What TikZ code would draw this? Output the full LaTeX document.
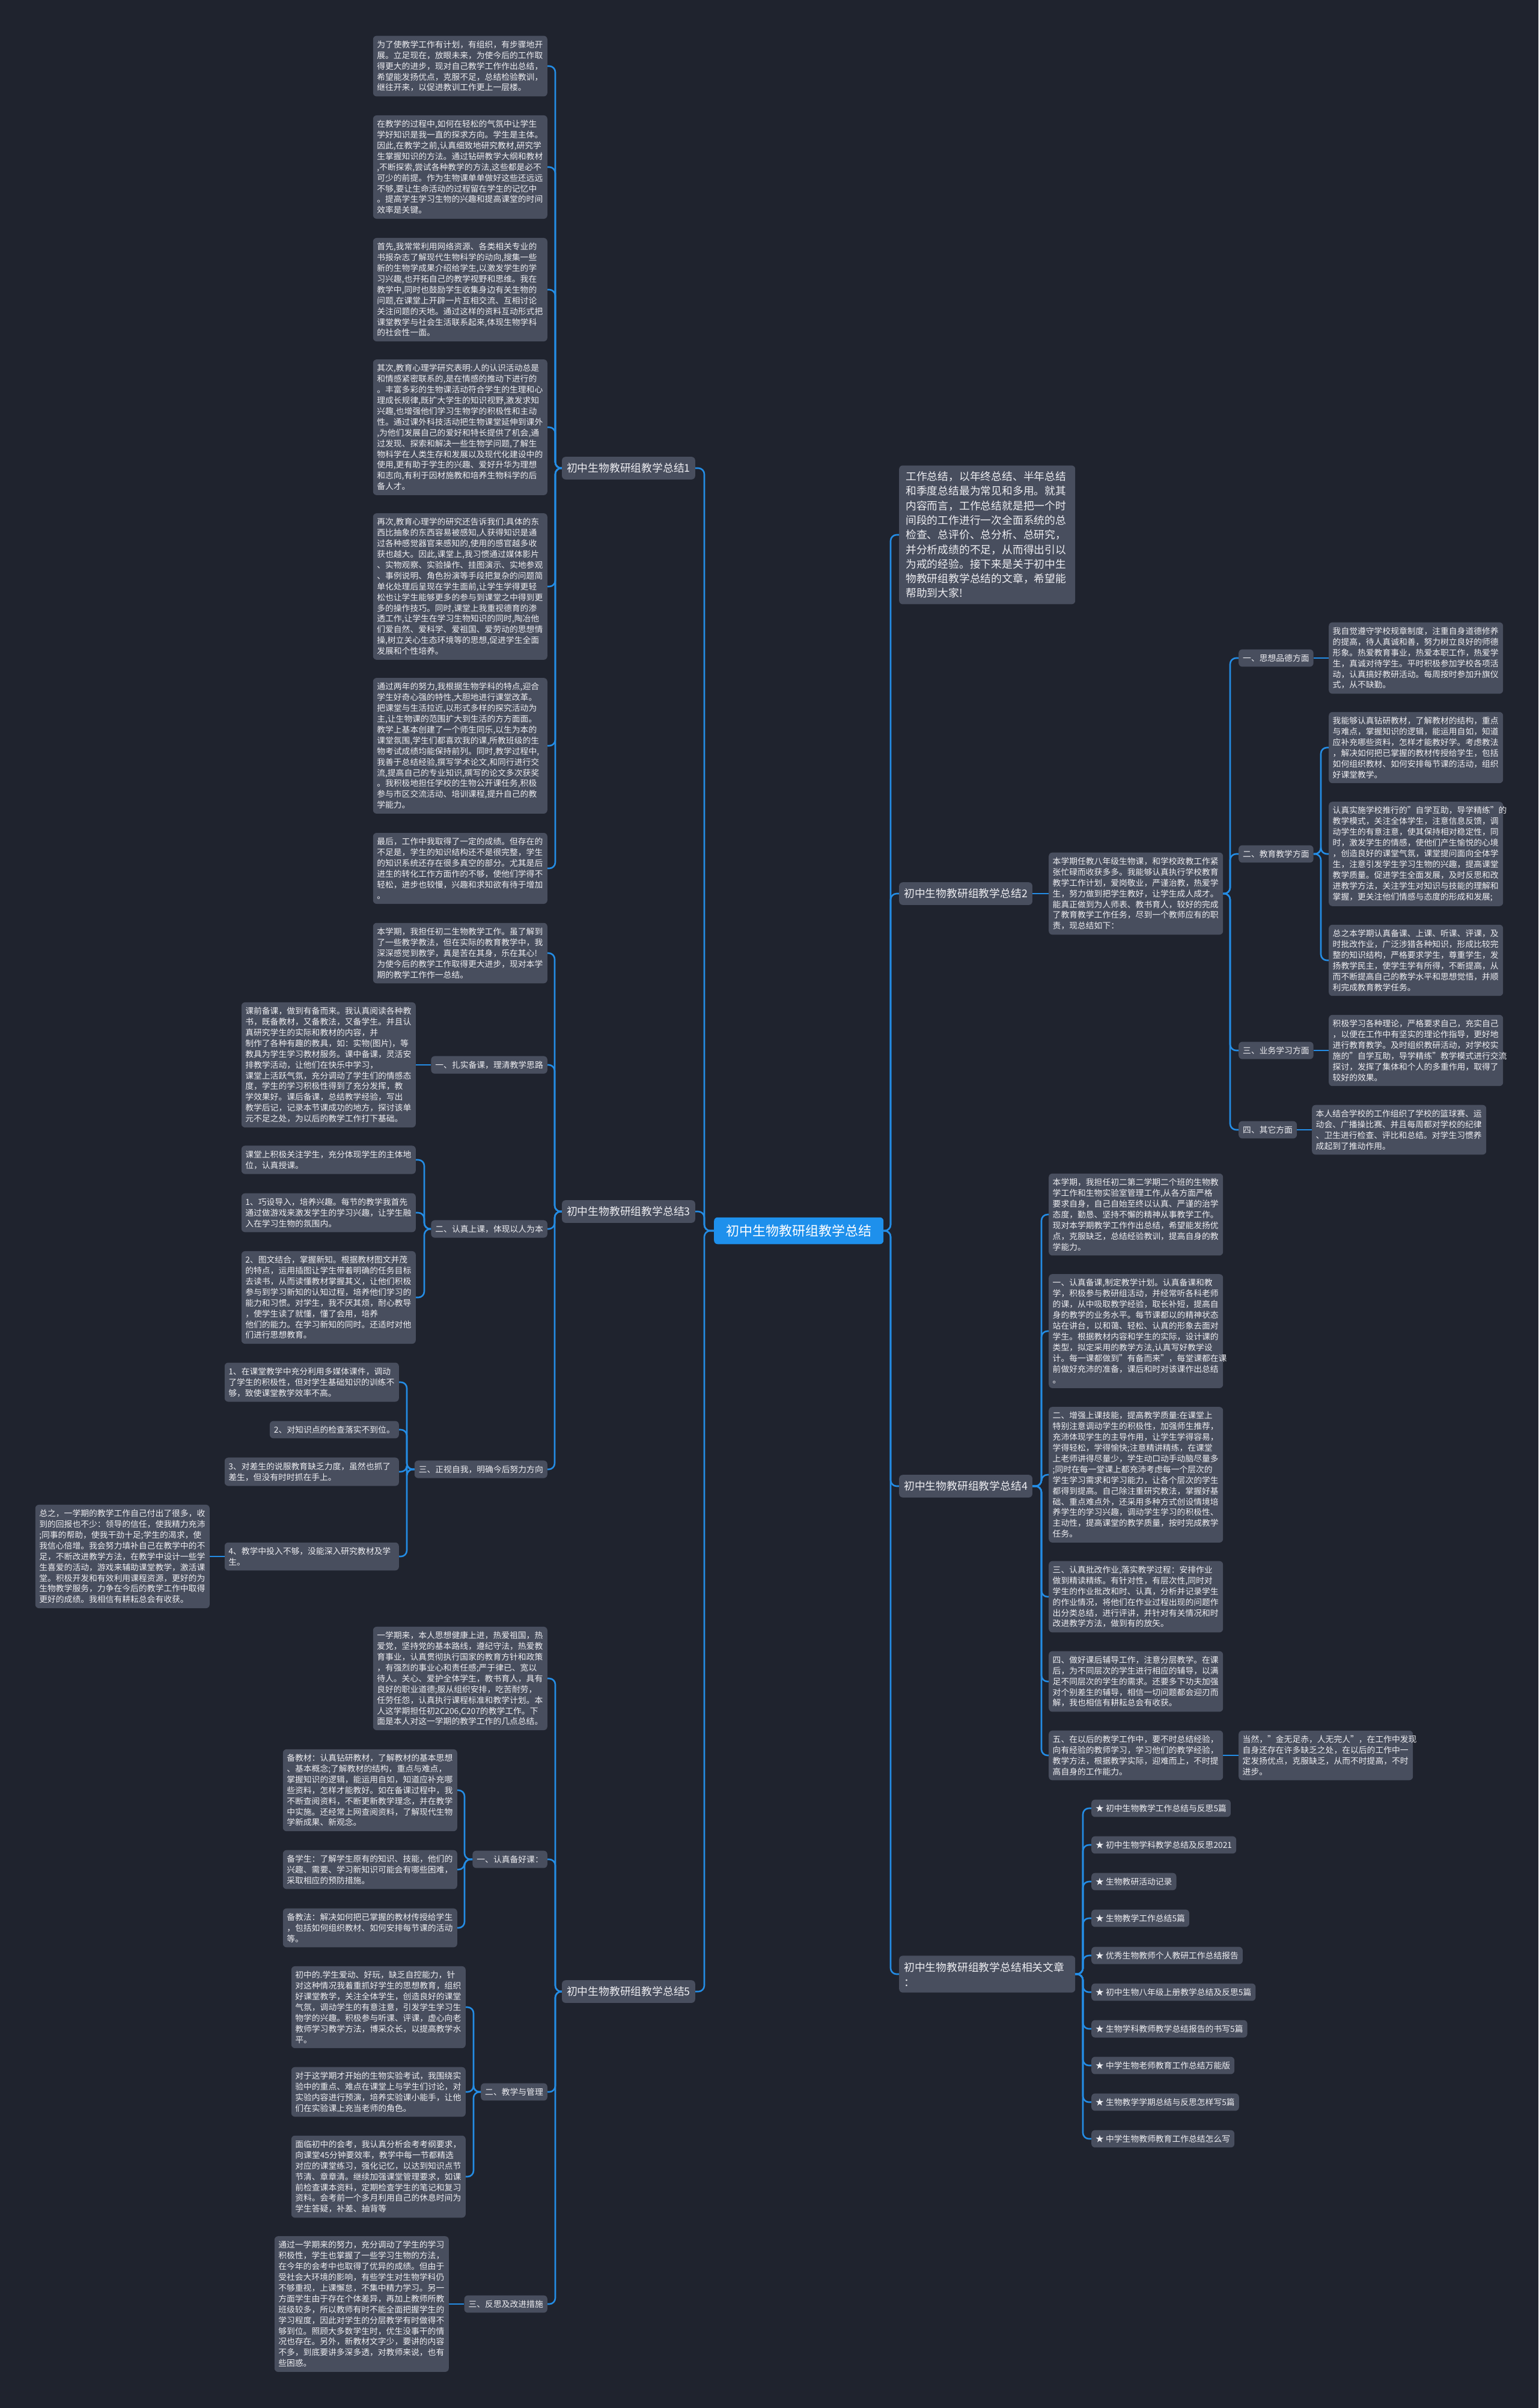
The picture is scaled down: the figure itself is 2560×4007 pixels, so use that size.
\documentclass[tikz,border=0pt]{standalone}
\usepackage{fontspec}
\setmainfont{Noto Sans CJK SC}
\definecolor{bgc}{RGB}{31,35,46}
\definecolor{boxc}{RGB}{72,78,94}
\definecolor{linec}{RGB}{36,140,228}
\definecolor{txtc}{RGB}{238,238,242}
\definecolor{cblue}{RGB}{30,144,236}
\tikzset{
  conn/.style={draw=linec, line width=2.6pt, rounded corners=10pt},
  tbox/.style={fill=boxc, rounded corners=6pt, text=txtc, font=\fontsize{13.8}{17.9}\selectfont, align=left, text width=277pt, inner xsep=6.5pt, inner ysep=8pt},
  lvtwo/.style={fill=boxc, rounded corners=6pt, text=txtc, font=\fontsize{13.8}{17.9}\selectfont, align=left, inner xsep=7pt, inner ysep=8pt},
  lvone/.style={fill=boxc, rounded corners=6pt, text=txtc, font=\fontsize{17.8}{25}\selectfont, align=left, inner xsep=8pt, inner ysep=10.5pt},
  introbox/.style={fill=boxc, rounded corners=6pt, text=txtc, font=\fontsize{17.8}{24.3}\selectfont, align=left, text width=271pt, inner xsep=11pt, inner ysep=10pt},
  cnode/.style={fill=cblue, rounded corners=6pt, text=white, font=\fontsize{22}{28}\selectfont, inner xsep=20pt, inner ysep=12pt},
}
\begin{document}
\begin{tikzpicture}[x=1pt,y=-1pt]
\fill[bgc] (0,0) rectangle (2560,4007);
\useasboundingbox (0,0) rectangle (2560,4007);

% bus coordinates
\coordinate (bML) at (1172,0);
\coordinate (bMR) at (1482,0);
\coordinate (bL1) at (924,0);
\coordinate (bL3) at (923,0);
\coordinate (bB2) at (706,0);
\coordinate (bB3) at (677,0);
\coordinate (bL5) at (924,0);
\coordinate (bE1) at (773,0);
\coordinate (bE2) at (788,0);
\coordinate (bL2) at (1731,0);
\coordinate (bR) at (2047,0);
\coordinate (bR2) at (2198,0);
\coordinate (bL4) at (1733,0);
\coordinate (bL6) at (1802,0);

% center
\node[cnode, anchor=west] (C) at (1188,2048) {初中生物教研组教学总结};

% ---------- Left: section 1
\node[lvone, anchor=east] (L1) at (1157,779) {初中生物教研组教学总结1};
\node[tbox, anchor=east] (A1) at (911,110) {为了使教学工作有计划，有组织，有步骤地开\\展。立足现在，放眼未来，为使今后的工作取\\得更大的进步，现对自己教学工作作出总结，\\希望能发扬优点，克服不足，总结检验教训，\\继往开来，以促进教训工作更上一层楼。};
\node[tbox, anchor=east] (A2) at (911,278) {在教学的过程中,如何在轻松的气氛中让学生\\学好知识是我一直的探求方向。学生是主体。\\因此,在教学之前,认真细致地研究教材,研究学\\生掌握知识的方法。通过钻研教学大纲和教材\\,不断探索,尝试各种教学的方法,这些都是必不\\可少的前提。作为生物课单单做好这些还远远\\不够,要让生命活动的过程留在学生的记忆中\\。提高学生学习生物的兴趣和提高课堂的时间\\效率是关键。};
\node[tbox, anchor=east] (A3) at (911,482) {首先,我常常利用网络资源、各类相关专业的\\书报杂志了解现代生物科学的动向,搜集一些\\新的生物学成果介绍给学生,以激发学生的学\\习兴趣,也开拓自己的教学视野和思维。我在\\教学中,同时也鼓励学生收集身边有关生物的\\问题,在课堂上开辟一片互相交流、互相讨论\\关注问题的天地。通过这样的资料互动形式把\\课堂教学与社会生活联系起来,体现生物学科\\的社会性一面。};
\node[tbox, anchor=east] (A4) at (911,711) {其次,教育心理学研究表明:人的认识活动总是\\和情感紧密联系的,是在情感的推动下进行的\\。丰富多彩的生物课活动符合学生的生理和心\\理成长规律,既扩大学生的知识视野,激发求知\\兴趣,也增强他们学习生物学的积极性和主动\\性。通过课外科技活动把生物课堂延伸到课外\\,为他们发展自己的爱好和特长提供了机会,通\\过发现、探索和解决一些生物学问题,了解生\\物科学在人类生存和发展以及现代化建设中的\\使用,更有助于学生的兴趣、爱好升华为理想\\和志向,有利于因材施教和培养生物科学的后\\备人才。};
\node[tbox, anchor=east] (A5) at (911,976) {再次,教育心理学的研究还告诉我们:具体的东\\西比抽象的东西容易被感知,人获得知识是通\\过各种感觉器官来感知的,使用的感官越多收\\获也越大。因此,课堂上,我习惯通过媒体影片\\、实物观察、实验操作、挂图演示、实地参观\\、事例说明、角色扮演等手段把复杂的问题简\\单化处理后呈现在学生面前,让学生学得更轻\\松也让学生能够更多的参与到课堂之中得到更\\多的操作技巧。同时,课堂上我重视德育的渗\\透工作,让学生在学习生物知识的同时,陶冶他\\们爱自然、爱科学、爱祖国、爱劳动的思想情\\操,树立关心生态环境等的思想,促进学生全面\\发展和个性培养。};
\node[tbox, anchor=east] (A6) at (911,1241) {通过两年的努力,我根据生物学科的特点,迎合\\学生好奇心强的特性,大胆地进行课堂改革。\\把课堂与生活拉近,以形式多样的探究活动为\\主,让生物课的范围扩大到生活的方方面面。\\教学上基本创建了一个师生同乐,以生为本的\\课堂氛围,学生们都喜欢我的课,所教班级的生\\物考试成绩均能保持前列。同时,教学过程中,\\我善于总结经验,撰写学术论文,和同行进行交\\流,提高自己的专业知识,撰写的论文多次获奖\\。我积极地担任学校的生物公开课任务,积极\\参与市区交流活动、培训课程,提升自己的教\\学能力。};
\node[tbox, anchor=east] (A7) at (911,1445) {最后，工作中我取得了一定的成绩。但存在的\\不足是，学生的知识结构还不是很完整，学生\\的知识系统还存在很多真空的部分。尤其是后\\进生的转化工作方面作的不够，使他们学得不\\轻松，进步也较慢，兴趣和求知欲有待于增加\\。};

% ---------- Left: section 3
\node[lvone, anchor=east] (L3) at (1157,2016) {初中生物教研组教学总结3};
\node[tbox, anchor=east] (B0) at (911,1586) {本学期，我担任初二生物教学工作。虽了解到\\了一些教学教法，但在实际的教育教学中，我\\深深感觉到教学，真是苦在其身，乐在其心!\\为使今后的教学工作取得更大进步，现对本学\\期的教学工作作一总结。};
\node[lvtwo, anchor=east] (B1) at (911,1772) {一、扎实备课，理清教学思路};
\node[tbox, anchor=east] (B1c) at (692,1772) {课前备课，做到有备而来。我认真阅读各种教\\书，既备教材，又备教法，又备学生。并且认\\真研究学生的实际和教材的内容，并\\制作了各种有趣的教具，如：实物(图片)，等\\教具为学生学习教材服务。课中备课，灵活安\\排教学活动，让他们在快乐中学习，\\课堂上活跃气氛，充分调动了学生们的情感态\\度，学生的学习积极性得到了充分发挥，教\\学效果好。课后备课，总结教学经验，写出\\教学后记，记录本节课成功的地方，探讨该单\\元不足之处，为以后的教学工作打下基础。};
\node[lvtwo, anchor=east] (B2) at (911,2045) {二、认真上课，体现以人为本};
\node[tbox, anchor=east] (B2a) at (692,1930) {课堂上积极关注学生，充分体现学生的主体地\\位，认真授课。};
\node[tbox, anchor=east] (B2b) at (692,2018) {1、巧设导入，培养兴趣。每节的教学我首先\\通过做游戏来激发学生的学习兴趣，让学生融\\入在学习生物的氛围内。};
\node[tbox, anchor=east] (B2c) at (692,2159) {2、图文结合，掌握新知。根据教材图文并茂\\的特点，运用插图让学生带着明确的任务目标\\去读书，从而读懂教材掌握其义，让他们积极\\参与到学习新知的认知过程，培养他们学习的\\能力和习惯。对学生，我不厌其烦，耐心教导\\，使学生读了就懂，懂了会用，培养\\他们的能力。在学习新知的同时。还适时对他\\们进行思想教育。};
\node[lvtwo, anchor=east] (B3) at (911,2445) {三、正视自我，明确今后努力方向};
\node[tbox, anchor=east] (C1) at (664,2300) {1、在课堂教学中充分利用多媒体课件，调动\\了学生的积极性，但对学生基础知识的训练不\\够，致使课堂教学效率不高。};
\node[lvtwo, anchor=east] (C2) at (664,2379) {2、对知识点的检查落实不到位。};
\node[tbox, anchor=east] (C3) at (664,2449) {3、对差生的说服教育缺乏力度，虽然也抓了\\差生，但没有时时抓在手上。};
\node[tbox, anchor=east] (C4) at (664,2590) {4、教学中投入不够，没能深入研究教材及学\\生。};
\node[tbox, anchor=east] (D) at (349,2590) {总之，一学期的教学工作自己付出了很多，收\\到的回报也不少：领导的信任，使我精力充沛\\;同事的帮助，使我干劲十足;学生的渴求，使\\我信心倍增。我会努力填补自己在教学中的不\\足，不断改进教学方法，在教学中设计一些学\\生喜爱的活动，游戏来辅助课堂教学，激活课\\堂。积极开发和有效利用课程资源，更好的为\\生物教学服务，力争在今后的教学工作中取得\\更好的成绩。我相信有耕耘总会有收获。};

% ---------- Left: section 5
\node[lvone, anchor=east] (L5) at (1157,3314) {初中生物教研组教学总结5};
\node[tbox, anchor=east] (E0) at (911,2793) {一学期来，本人思想健康上进，热爱祖国，热\\爱党，坚持党的基本路线，遵纪守法，热爱教\\育事业，认真贯彻执行国家的教育方针和政策\\，有强烈的事业心和责任感;严于律已、宽以\\待人。关心、爱护全体学生，教书育人，具有\\良好的职业道德;服从组织安排，吃苦耐劳，\\任劳任怨，认真执行课程标准和教学计划。本\\人这学期担任初2C206,C207的教学工作。下\\面是本人对这一学期的教学工作的几点总结。};
\node[lvtwo, anchor=east] (E1) at (911,3094) {一、认真备好课：};
\node[tbox, anchor=east] (E1a) at (761,2979) {备教材：认真钻研教材，了解教材的基本思想\\、基本概念;了解教材的结构，重点与难点，\\掌握知识的逻辑，能运用自如，知道应补充哪\\些资料，怎样才能教好。如在备课过程中，我\\不断查阅资料，不断更新教学理念，并在教学\\中实施。还经常上网查阅资料，了解现代生物\\学新成果、新观念。};
\node[tbox, anchor=east] (E1b) at (761,3111) {备学生：了解学生原有的知识、技能，他们的\\兴趣、需要、学习新知识可能会有哪些困难，\\采取相应的预防措施。};
\node[tbox, anchor=east] (E1c) at (761,3208) {备教法：解决如何把已掌握的教材传授给学生\\，包括如何组织教材、如何安排每节课的活动\\等。};
\node[lvtwo, anchor=east] (E2) at (911,3481) {二、教学与管理};
\node[tbox, anchor=east] (E2a) at (775,3340) {初中的.学生爱动、好玩，缺乏自控能力，针\\对这种情况我着重抓好学生的思想教育，组织\\好课堂教学，关注全体学生，创造良好的课堂\\气氛，调动学生的有意注意，引发学生学习生\\物学的兴趣。积极参与听课、评课，虚心向老\\教师学习教学方法，博采众长，以提高教学水\\平。};
\node[tbox, anchor=east] (E2b) at (775,3481) {对于这学期才开始的生物实验考试，我围绕实\\验中的重点、难点在课堂上与学生们讨论，对\\实验内容进行预演，培养实验课小能手，让他\\们在实验课上充当老师的角色。};
\node[tbox, anchor=east] (E2c) at (775,3622) {面临初中的会考，我认真分析会考考纲要求，\\向课堂45分钟要效率，教学中每一节都精选\\对应的课堂练习，强化记忆，以达到知识点节\\节清、章章清。继续加强课堂管理要求，如课\\前检查课本资料，定期检查学生的笔记和复习\\资料。会考前一个多月利用自己的休息时间为\\学生答疑，补差、抽背等};
\node[lvtwo, anchor=east] (E3) at (911,3834) {三、反思及改进措施};
\node[tbox, anchor=east] (E3a) at (747,3834) {通过一学期来的努力，充分调动了学生的学习\\积极性，学生也掌握了一些学习生物的方法，\\在今年的会考中也取得了优异的成绩。但由于\\受社会大环境的影响，有些学生对生物学科仍\\不够重视，上课懈怠，不集中精力学习。另一\\方面学生由于存在个体差异，再加上教师所教\\班级较多，所以教师有时不能全面把握学生的\\学习程度，因此对学生的分层教学有时做得不\\够到位。照顾大多数学生时，优生没事干的情\\况也存在。另外，新教材文字少，要讲的内容\\不多，到底要讲多深多透，对教师来说，也有\\些困惑。};

% ---------- Right: intro
\node[introbox, anchor=west] (I) at (1496,890) {工作总结，以年终总结、半年总结\\和季度总结最为常见和多用。就其\\内容而言，工作总结就是把一个时\\间段的工作进行一次全面系统的总\\检查、总评价、总分析、总研究，\\并分析成绩的不足，从而得出引以\\为戒的经验。接下来是关于初中生\\物教研组教学总结的文章，希望能\\帮助到大家!};

% ---------- Right: section 2
\node[lvone, anchor=west] (L2) at (1496,1487) {初中生物教研组教学总结2};
\node[tbox, anchor=west] (L2b) at (1745,1487) {本学期任教八年级生物课，和学校政教工作紧\\张忙碌而收获多多。我能够认真执行学校教育\\教学工作计划，爱岗敬业，严谨治教，热爱学\\生，努力做到把学生教好，让学生成人成才。\\能真正做到为人师表、教书育人，较好的完成\\了教育教学工作任务，尽到一个教师应有的职\\责，现总结如下：};
\node[lvtwo, anchor=west] (R1) at (2061,1095) {一、思想品德方面};
\node[tbox, anchor=west] (R1a) at (2211,1095) {我自觉遵守学校规章制度，注重自身道德修养\\的提高，待人真诚和善，努力树立良好的师德\\形象。热爱教育事业，热爱本职工作，热爱学\\生，真诚对待学生。平时积极参加学校各项活\\动，认真搞好教研活动。每周按时参加升旗仪\\式，从不缺勤。};
\node[lvtwo, anchor=west] (R2) at (2061,1421) {二、教育教学方面};
\node[tbox, anchor=west] (R2a) at (2211,1244) {我能够认真钻研教材，了解教材的结构，重点\\与难点，掌握知识的逻辑，能运用自如，知道\\应补充哪些资料，怎样才能教好学。考虑教法\\，解决如何把已掌握的教材传授给学生，包括\\如何组织教材、如何安排每节课的活动，组织\\好课堂教学。};
\node[tbox, anchor=west] (R2b) at (2211,1421) {认真实施学校推行的"自学互助，导学精练"的\\教学模式，关注全体学生，注意信息反馈，调\\动学生的有意注意，使其保持相对稳定性，同\\时，激发学生的情感，使他们产生愉悦的心境\\，创造良好的课堂气氛，课堂提问面向全体学\\生，注意引发学生学习生物的兴趣，提高课堂\\教学质量。促进学生全面发展，及时反思和改\\进教学方法，关注学生对知识与技能的理解和\\掌握，更关注他们情感与态度的形成和发展;};
\node[tbox, anchor=west] (R2c) at (2211,1598) {总之本学期认真备课、上课、听课、评课，及\\时批改作业，广泛涉猎各种知识，形成比较完\\整的知识结构，严格要求学生，尊重学生，发\\扬教学民主，使学生学有所得，不断提高，从\\而不断提高自己的教学水平和思想觉悟，并顺\\利完成教育教学任务。};
\node[lvtwo, anchor=west] (R3) at (2061,1748) {三、业务学习方面};
\node[tbox, anchor=west] (R3a) at (2211,1748) {积极学习各种理论，严格要求自己，充实自己\\，以便在工作中有坚实的理论作指导，更好地\\进行教育教学。及时组织教研活动，对学校实\\施的"自学互助，导学精练"教学模式进行交流\\探讨，发挥了集体和个人的多重作用，取得了\\较好的效果。};
\node[lvtwo, anchor=west] (R4) at (2061,1880) {四、其它方面};
\node[tbox, anchor=west] (R4a) at (2183,1880) {本人结合学校的工作组织了学校的篮球赛、运\\动会、广播操比赛、并且每周都对学校的纪律\\、卫生进行检查、评比和总结。对学生习惯养\\成起到了推动作用。};

% ---------- Right: section 4
\node[lvone, anchor=west] (L4) at (1496,2473) {初中生物教研组教学总结4};
\node[tbox, anchor=west] (F1) at (1745,2021) {本学期，我担任初二第二学期二个班的生物教\\学工作和生物实验室管理工作,从各方面严格\\要求自身，自己自始至终以认真、严谨的治学\\态度，勤恳、坚持不懈的精神从事教学工作。\\现对本学期教学工作作出总结，希望能发扬优\\点，克服缺乏，总结经验教训，提高自身的教\\学能力。};
\node[tbox, anchor=west] (F2) at (1745,2215) {一、认真备课,制定教学计划。认真备课和教\\学，积极参与教研组活动，并经常听各科老师\\的课，从中吸取教学经验，取长补短，提高自\\身的教学的业务水平。每节课都以的精神状态\\站在讲台，以和蔼、轻松、认真的形象去面对\\学生。根据教材内容和学生的实际，设计课的\\类型，拟定采用的教学方法,认真写好教学设\\计。每一课都做到"有备而来"，每堂课都在课\\前做好充沛的准备，课后和时对该课作出总结\\。};
\node[tbox, anchor=west] (F3) at (1745,2454) {二、增强上课技能，提高教学质量:在课堂上\\特别注意调动学生的积极性，加强师生推荐，\\充沛体现学生的主导作用，让学生学得容易，\\学得轻松，学得愉快;注意精讲精练，在课堂\\上老师讲得尽量少，学生动口动手动脑尽量多\\;同时在每一堂课上都充沛考虑每一个层次的\\学生学习需求和学习能力，让各个层次的学生\\都得到提高。自己除注重研究教法，掌握好基\\础、重点难点外，还采用多种方式创设情境培\\养学生的学习兴趣，调动学生学习的积极性、\\主动性，提高课堂的教学质量，按时完成教学\\任务。};
\node[tbox, anchor=west] (F4) at (1745,2657) {三、认真批改作业,落实教学过程：安排作业\\做到精读精练。有针对性，有层次性,同时对\\学生的作业批改和时、认真，分析并记录学生\\的作业情况，将他们在作业过程出现的问题作\\出分类总结，进行评讲，并针对有关情况和时\\改进教学方法，做到有的放矢。};
\node[tbox, anchor=west] (F5) at (1745,2798) {四、做好课后辅导工作，注意分层教学。在课\\后，为不同层次的学生进行相应的辅导，以满\\足不同层次的学生的需求。还要多下功夫加强\\对个别差生的辅导，相信一切问题都会迎刃而\\解，我也相信有耕耘总会有收获。};
\node[tbox, anchor=west] (F6) at (1745,2921) {五、在以后的教学工作中，要不时总结经验，\\向有经验的教师学习，学习他们的教学经验，\\教学方法，根据教学实际，迎难而上，不时提\\高自身的工作能力。};
\node[tbox, anchor=west] (F6a) at (2061,2921) {当然，"金无足赤，人无完人"，在工作中发现\\自身还存在许多缺乏之处，在以后的工作中一\\定发扬优点，克服缺乏，从而不时提高，不时\\进步。};

% ---------- Right: related articles
\node[lvone, anchor=west, text width=277pt] (L6) at (1496,3285) {初中生物教研组教学总结相关文章\\：};
\node[lvtwo, anchor=west] (G1) at (1816,3009) {★ 初中生物教学工作总结与反思5篇};
\node[lvtwo, anchor=west] (G2) at (1816,3070) {★ 初中生物学科教学总结及反思2021};
\node[lvtwo, anchor=west] (G3) at (1816,3131) {★ 生物教研活动记录};
\node[lvtwo, anchor=west] (G4) at (1816,3192) {★ 生物教学工作总结5篇};
\node[lvtwo, anchor=west] (G5) at (1816,3254) {★ 优秀生物教师个人教研工作总结报告};
\node[lvtwo, anchor=west] (G6) at (1816,3315) {★ 初中生物八年级上册教学总结及反思5篇};
\node[lvtwo, anchor=west] (G7) at (1816,3376) {★ 生物学科教师教学总结报告的书写5篇};
\node[lvtwo, anchor=west] (G8) at (1816,3437) {★ 中学生物老师教育工作总结万能版};
\node[lvtwo, anchor=west] (G9) at (1816,3498) {★ 生物教学学期总结与反思怎样写5篇};
\node[lvtwo, anchor=west] (G10) at (1816,3559) {★ 中学生物教师教育工作总结怎么写};

% ---------- connectors
\foreach \c in {L1,L3,L5} \draw[conn] (C.west) -- (C.west -| bML) |- (\c.east);
\foreach \c in {I,L2,L4,L6} \draw[conn] (C.east) -- (C.east -| bMR) |- (\c.west);
\foreach \c in {A1,A2,A3,A4,A5,A6,A7} \draw[conn] (L1.west) -- (L1.west -| bL1) |- (\c.east);
\foreach \c in {B0,B1,B2,B3} \draw[conn] (L3.west) -- (L3.west -| bL3) |- (\c.east);
\draw[conn] (B1.west) -- (B1c.east);
\foreach \c in {B2a,B2b,B2c} \draw[conn] (B2.west) -- (B2.west -| bB2) |- (\c.east);
\foreach \c in {C1,C2,C3,C4} \draw[conn] (B3.west) -- (B3.west -| bB3) |- (\c.east);
\draw[conn] (C4.west) -- (D.east);
\foreach \c in {E0,E1,E2,E3} \draw[conn] (L5.west) -- (L5.west -| bL5) |- (\c.east);
\foreach \c in {E1a,E1b,E1c} \draw[conn] (E1.west) -- (E1.west -| bE1) |- (\c.east);
\foreach \c in {E2a,E2b,E2c} \draw[conn] (E2.west) -- (E2.west -| bE2) |- (\c.east);
\draw[conn] (E3.west) -- (E3a.east);
\draw[conn] (L2.east) -- (L2b.west);
\foreach \c in {R1,R2,R3,R4} \draw[conn] (L2b.east) -- (L2b.east -| bR) |- (\c.west);
\draw[conn] (R1.east) -- (R1a.west);
\foreach \c in {R2a,R2b,R2c} \draw[conn] (R2.east) -- (R2.east -| bR2) |- (\c.west);
\draw[conn] (R3.east) -- (R3a.west);
\draw[conn] (R4.east) -- (R4a.west);
\foreach \c in {F1,F2,F3,F4,F5,F6} \draw[conn] (L4.east) -- (L4.east -| bL4) |- (\c.west);
\draw[conn] (F6.east) -- (F6a.west);
\foreach \c in {G1,G2,G3,G4,G5,G6,G7,G8,G9,G10} \draw[conn] (L6.east) -- (L6.east -| bL6) |- (\c.west);
\end{tikzpicture}
\end{document}
